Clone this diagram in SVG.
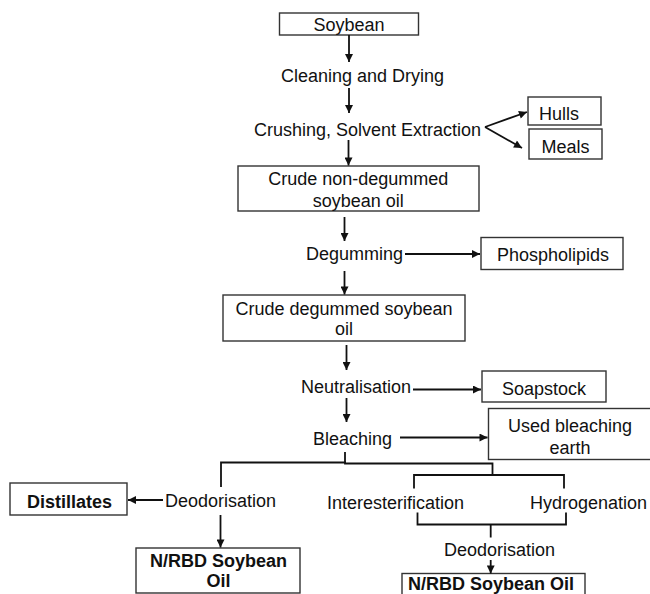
<svg xmlns="http://www.w3.org/2000/svg" width="650" height="594" viewBox="0 0 650 594">
<defs>
<style>
text{font-family:"Liberation Sans",Arial,sans-serif;font-size:18px;fill:#111}
.b{font-weight:bold}
.m{text-anchor:middle}
rect{fill:#fff;stroke:#333;stroke-width:1.4}
.c line,.c polyline{stroke:#111;stroke-width:1.8;fill:none}
</style>
<marker id="ah" viewBox="0 0 10 10" refX="10" refY="5" markerWidth="9" markerHeight="8" markerUnits="userSpaceOnUse" orient="auto">
<path d="M0,0 L10,5 L0,10 z" fill="#111"/>
</marker>
</defs>
<rect x="0" y="0" width="650" height="594" style="fill:#fff;stroke:none"/>
<g id="soybean"><rect x="279.5" y="13" width="139" height="22"/><text class="m" x="349" y="31">Soybean</text></g>
<g id="cleaning"><text x="281" y="82">Cleaning and Drying</text></g>
<g id="crushing"><text x="254" y="136">Crushing, Solvent Extraction</text></g>
<g id="hulls"><rect x="528" y="97" width="73" height="28"/><text x="539" y="120">Hulls</text></g>
<g id="meals"><rect x="529" y="129" width="73" height="30"/><text x="541.5" y="153">Meals</text></g>
<g id="crude-nondegummed"><rect x="238" y="166" width="241" height="45"/><text class="m" x="358.3" y="185">Crude non-degummed</text><text class="m" x="358.3" y="206.5">soybean oil</text></g>
<g id="degumming"><text x="306" y="260">Degumming</text></g>
<g id="phospholipids"><rect x="481" y="237.5" width="142" height="32"/><text x="497" y="261">Phospholipids</text></g>
<g id="crude-degummed"><rect x="223" y="295" width="242" height="46"/><text class="m" x="344" y="315">Crude degummed soybean</text><text class="m" x="344" y="335">oil</text></g>
<g id="neutralisation"><text x="301" y="393">Neutralisation</text></g>
<g id="soapstock"><rect x="482" y="371" width="124" height="31"/><text x="502" y="395">Soapstock</text></g>
<g id="bleaching"><text x="313" y="445">Bleaching</text></g>
<g id="used-earth"><rect x="488.5" y="408.5" width="170" height="51"/><text class="m" x="570" y="432">Used bleaching</text><text class="m" x="570" y="454">earth</text></g>
<g id="deodorisation-left"><text x="165" y="507">Deodorisation</text></g>
<g id="distillates"><rect x="10" y="483" width="117" height="32"/><text class="b" x="27" y="507.5">Distillates</text></g>
<g id="nrbd-left"><rect x="136" y="548" width="164" height="45"/><text class="b m" x="218.5" y="567">N/RBD Soybean</text><text class="b m" x="218.5" y="587">Oil</text></g>
<g id="interesterification"><text x="327" y="509">Interesterification</text></g>
<g id="hydrogenation"><text x="530" y="509">Hydrogenation</text></g>
<g id="deodorisation-right"><text x="444" y="556">Deodorisation</text></g>
<g id="nrbd-right"><rect x="402" y="573.5" width="183" height="30"/><text class="b" x="408" y="589.5">N/RBD Soybean Oil</text></g>
<g id="connectors" class="c">
<line x1="349" y1="35" x2="349" y2="62" marker-end="url(#ah)"/>
<line x1="349" y1="88" x2="349" y2="113" marker-end="url(#ah)"/>
<line x1="348.5" y1="140" x2="348.5" y2="165.5" marker-end="url(#ah)"/>
<line x1="485" y1="127" x2="527" y2="112" marker-end="url(#ah)"/>
<line x1="485" y1="127" x2="522" y2="148" marker-end="url(#ah)"/>
<line x1="344.5" y1="217" x2="344.5" y2="241" marker-end="url(#ah)"/>
<line x1="405" y1="254" x2="480" y2="254" marker-end="url(#ah)"/>
<line x1="344.5" y1="271" x2="344.5" y2="294.5" marker-end="url(#ah)"/>
<line x1="346.5" y1="345" x2="346.5" y2="370" marker-end="url(#ah)"/>
<line x1="413" y1="389.5" x2="481" y2="389.5" marker-end="url(#ah)"/>
<line x1="346.5" y1="398" x2="346.5" y2="422" marker-end="url(#ah)"/>
<line x1="400" y1="437.5" x2="487.5" y2="437.5" marker-end="url(#ah)"/>
<line x1="345" y1="452" x2="345" y2="463"/>
<polyline points="221,487 221,462.5 345,462.5 345,463.5 492.5,463.5 492.5,475"/>
<polyline points="414,488.5 414,475 564,475 564,488.5"/>
<polyline points="417.5,512.5 417.5,524.5 566,524.5 566,512.5"/>
<line x1="490.7" y1="524.5" x2="490.7" y2="537.5"/>
<line x1="490.7" y1="560" x2="490.7" y2="573.5" marker-end="url(#ah)"/>
<line x1="163" y1="500" x2="128" y2="500" marker-end="url(#ah)"/>
<line x1="220.5" y1="515" x2="220.5" y2="547.5" marker-end="url(#ah)"/>
</g>
</svg>
